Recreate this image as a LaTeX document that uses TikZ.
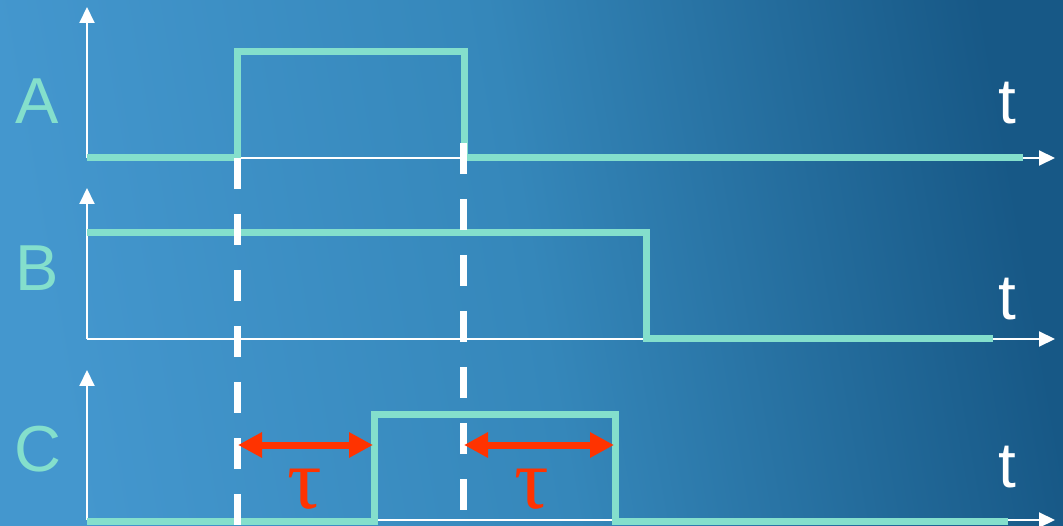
\documentclass[tikz,border=0pt]{standalone}
\usepackage{fontspec}
\setmainfont{Liberation Sans}
\newfontfamily\taufont{Liberation Serif}
\usepackage{tikz}
\usetikzlibrary{arrows.meta}
\definecolor{sigcol}{HTML}{84DFCC}
\definecolor{taured}{HTML}{FF3300}
\definecolor{bglight}{HTML}{4497CE}
\definecolor{bgmid}{HTML}{3587BA}
\definecolor{bgdark}{HTML}{175886}
\tikzstyle{axis}=[draw=white,line width=2pt,-{Triangle[length=16pt,width=15pt]}]
\tikzstyle{signal}=[draw=sigcol,line width=7pt,line join=miter]
\tikzstyle{marker}=[draw=white,line width=7pt,dash pattern=on 31pt off 25pt]
\tikzstyle{delay}=[draw=taured,line width=7pt,{Triangle[length=24pt,width=24pt]}-{Triangle[length=24pt,width=24pt]}]
\tikzstyle{siglabel}=[text=sigcol,anchor=base,inner sep=0pt,font=\fontsize{65}{65}\selectfont]
\tikzstyle{tlabel}=[text=white,anchor=base,inner sep=0pt,font=\fontsize{64}{64}\selectfont]
\tikzstyle{taulabel}=[text=taured,inner sep=0pt,font=\taufont\fontsize{86}{86}\selectfont]
\begin{document}
\begin{tikzpicture}[x=1pt,y=-1pt]
\useasboundingbox (0,0) rectangle (1063,526);
\shade[left color=bglight,right color=bgdark,middle color=bgmid,shading angle=100] (0,0) rectangle (1063,526);
% axes
\draw[axis] ( 87 , 158 )--( 87 , 7 );
\draw[axis] ( 87 , 158 )--( 1055 , 158 );
\draw[axis] ( 87 , 339 )--( 87 , 188 );
\draw[axis] ( 87 , 339 )--( 1055 , 339 );
\draw[axis] ( 87 , 520 )--( 87 , 370 );
\draw[axis] ( 87 , 520 )--( 1055 , 520 );
% signals
\draw[signal] ( 87 , 158 )--( 237 , 158 )--( 237 , 52 )--( 464 , 52 )--( 464 , 158 )--( 1023 , 158 );
\draw[signal] ( 87 , 233 )--( 646 , 233 )--( 646 , 339 )--( 993 , 339 );
\draw[signal] ( 87 , 521 )--( 374 , 521 )--( 374 , 415 )--( 615 , 415 )--( 615 , 521 )--( 1008 , 521 );
% markers
\draw[marker] ( 237 , 158 )--( 237 , 526 );
\draw[marker] ( 463 , 143 )--( 463 , 526 );
\draw[delay] ( 238 , 445 )--( 373 , 445 );
\draw[delay] ( 464 , 445 )--( 614 , 445 );
% labels
\node[siglabel] (labA) at ( 37 , 124 ){A};
\node[siglabel] (labB) at ( 37 , 291 ){B};
\node[siglabel] (labC) at ( 38 , 471 ){C};
\node[tlabel] (tA) at ( 1007 , 124 ){t};
\node[tlabel] (tB) at ( 1007 , 320 ){t};
\node[tlabel] (tC) at ( 1007 , 487 ){t};
\node[taulabel] (tau1) at ( 305 , 489 ){τ};
\node[taulabel] (tau2) at ( 532 , 489 ){τ};
\end{tikzpicture}
\end{document}
